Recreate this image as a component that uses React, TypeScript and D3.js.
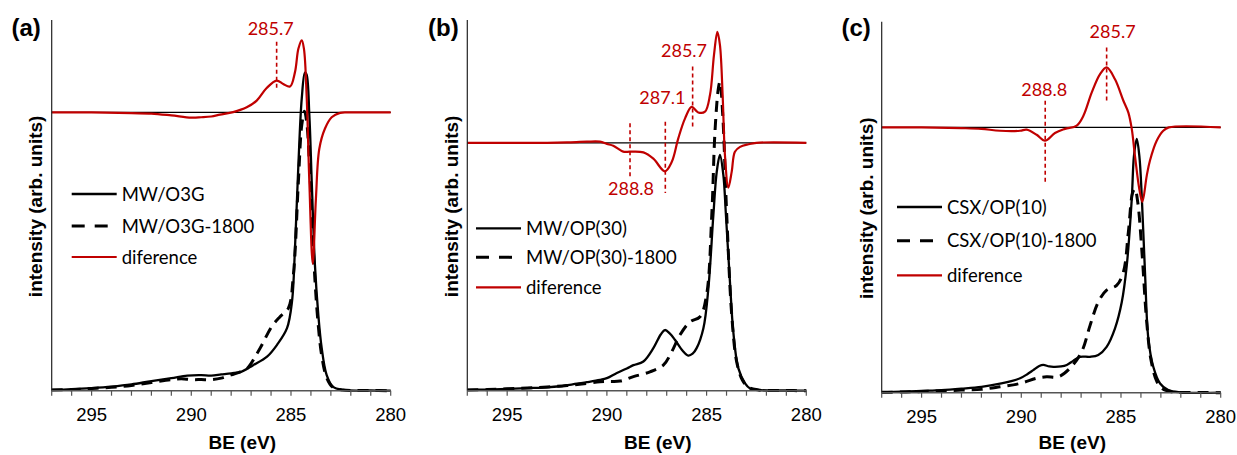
import React from "react";
import * as d3 from "d3";

type Pt = [number, number];

// ---------- data (BE in eV, intensity in arb. units 0..100) ----------
const xTicksMajor = [295, 290, 285, 280];
const panelLabels = ["(a)", "(b)", "(c)"];
const legendA = ["MW/O3G", "MW/O3G-1800", "diference"];
const legendB = ["MW/OP(30)", "MW/OP(30)-1800", "diference"];
const legendC = ["CSX/OP(10)", "CSX/OP(10)-1800", "diference"];
const diffBaselines = [75.2, 67.0, 71.7];

const aSolid: Pt[] = [
  [297, 0.2], [296, 0.4], [295, 0.7], [294, 1.1], [293, 1.7], [292, 2.6], [291, 3.4], [290.2, 4.1],
  [289.5, 4.2], [289, 4.1], [288.5, 4.4], [288, 4.7], [287.5, 5.1], [286.9, 6.9], [286.2, 9.2],
  [285.7, 12.4], [285.2, 16.9], [284.95, 24.1], [284.8, 38.5], [284.63, 61], [284.46, 79],
  [284.3, 86.0], [284.22, 85.5], [284.08, 74.5], [283.96, 56.5], [283.8, 34], [283.63, 20.5],
  [283.46, 11.5], [283.21, 4.2], [282.9, 1.1], [282.4, 0.2], [281, 0.05], [280, 0],
];
const aDashed: Pt[] = [
  [297, 0.2], [296, 0.3], [295, 0.6], [294, 0.9], [293, 1.4], [292, 2.2], [291, 3.0], [290.5, 3.2],
  [290, 3.0], [289.5, 3.0], [289, 3.0], [288.5, 3.4], [288, 4.3], [287.5, 5.2], [287.2, 6.0],
  [286.55, 11.5], [285.97, 17.3], [285.55, 20], [285.13, 22.3], [284.88, 31.3], [284.63, 56.5],
  [284.46, 71.8], [284.32, 75.5], [284.2, 72], [284.08, 62], [283.96, 48], [283.8, 30],
  [283.63, 17.5], [283.46, 9.5], [283.21, 3.5], [282.9, 0.9], [282.4, 0.2], [281, 0.05], [280, 0],
];
const aDiff: Pt[] = [
  [297, 0], [295, 0], [293, -0.2], [292, -0.3], [291, -0.8], [290, -1.4], [289.5, -1.3], [289, -1.1],
  [288.56, -0.6], [287.9, 0.1], [287.22, 1.4], [286.72, 3.2], [286.22, 6.6], [285.72, 8.6],
  [285.39, 7.7], [285.05, 7.0], [284.8, 10.9], [284.63, 17.2], [284.46, 19.5], [284.35, 17.2],
  [284.21, 3.7], [284.08, -18.8], [283.91, -40.9], [283.75, -23.3], [283.58, -9.8], [283.3, -4.4],
  [282.96, -1.3], [282.54, -0.1], [282, 0], [280, 0],
];

const bSolid: Pt[] = [
  [297, 0.2], [296, 0.3], [295, 0.5], [294, 0.7], [293, 0.9], [292.35, 1.2], [291.5, 1.9], [291, 2.3],
  [290.35, 2.9], [290, 3.4], [289.5, 4.8], [289, 6.0], [288.67, 6.9], [288.17, 7.9], [287.67, 11.5],
  [287.3, 15.2], [287.09, 16.4], [286.85, 15.5], [286.58, 13.7], [286.2, 10.8], [285.92, 9.5],
  [285.7, 10.0], [285.5, 11.5], [285.16, 16.9], [284.91, 27.7], [284.66, 47.5], [284.49, 59.2],
  [284.33, 63.7], [284.16, 58.3], [284.03, 47.5], [283.83, 29.5], [283.66, 15.9], [283.41, 6.1],
  [283.07, 2.0], [282.82, 0.6], [282.3, 0.15], [281, 0.05], [280, 0],
];
const bDashed: Pt[] = [
  [297, 0.2], [296, 0.3], [295, 0.5], [294, 0.7], [293, 1.0], [292, 1.4], [291, 2.0], [290.35, 2.4],
  [289.9, 2.5], [289.34, 2.6], [288.67, 3.8], [287.84, 5.1], [287.17, 6.9], [286.75, 10.5],
  [286.33, 15.1], [285.83, 18.6], [285.33, 20], [285.0, 25.9], [284.74, 47.5], [284.58, 70],
  [284.41, 81.7], [284.33, 83.5], [284.19, 74.5], [283.99, 47.5], [283.74, 20.5], [283.49, 7.8],
  [283.2, 2.8], [282.9, 0.9], [282.4, 0.2], [281, 0.05], [280, 0],
];
const bDiff: Pt[] = [
  [297, 0], [293, 0], [292, 0.1], [291, 0.3], [290.35, 0.3], [290.0, -0.3], [289.68, -0.8],
  [289.18, -2.4], [288.84, -2.4], [288.17, -2.6], [287.67, -4.3], [287.09, -7.7], [286.75, -5.2],
  [286.42, 1.2], [286.08, 6.6], [285.75, 9.7], [285.42, 8.2], [285.08, 8.4], [284.83, 12.9],
  [284.63, 23.7], [284.46, 30], [284.33, 26.4], [284.19, 12.1], [284.08, -3.3], [283.91, -12.1],
  [283.74, -7.8], [283.58, -2.4], [283.32, -1.1], [282.9, -0.4], [282.5, 0], [280, 0],
];

const cSolid: Pt[] = [
  [297, 0.1], [296, 0.3], [295, 0.5], [294, 0.7], [293, 1.1], [292, 1.6], [291, 2.5], [290.5, 3.1],
  [290.06, 3.9], [289.7, 5.0], [289.4, 6.1], [289.1, 7.2], [288.9, 7.5], [288.6, 7.1], [288.39, 7.0],
  [288, 7.1], [287.72, 7.5], [287.4, 8.6], [287.05, 9.7], [286.55, 9.7], [286.14, 10.2],
  [285.72, 12.4], [285.3, 17.4], [284.96, 24.5], [284.71, 34.4], [284.46, 52.4], [284.35, 64],
  [284.21, 68.6], [284.08, 64], [283.96, 53.3], [283.79, 31.7], [283.63, 14.7], [283.38, 7.0],
  [283.04, 2.5], [282.63, 0.7], [282, 0.1], [280, 0],
];
const cDashed: Pt[] = [
  [297, 0.1], [296, 0.2], [295, 0.3], [294, 0.5], [293, 0.7], [292, 0.9], [291.07, 1.6],
  [290.06, 2.5], [289.23, 3.9], [288.73, 4.3], [288.14, 4.3], [287.56, 6.6], [286.97, 11.1],
  [286.55, 18.2], [286.14, 24.5], [285.72, 27.7], [285.22, 29], [284.88, 32.6], [284.63, 43.4],
  [284.41, 54.2], [284.3, 55.1], [284.16, 51.5], [283.96, 38.9], [283.71, 19.1], [283.5, 9.0],
  [283.2, 3.0], [282.9, 1.0], [282.4, 0.2], [281, 0.05], [280, 0],
];
const cDiff: Pt[] = [
  [297, 0], [295, 0], [293, -0.2], [292, -0.4], [291.07, -0.9], [290.06, -0.9], [289.73, -0.6],
  [289.23, -2.0], [288.81, -3.6], [288.31, -1.5], [287.81, -0.4], [287.22, 0.5], [286.89, 3.1],
  [286.47, 9.4], [286.05, 14.4], [285.72, 16.2], [285.3, 13.0], [284.88, 7.2], [284.63, 4.0],
  [284.46, -0.4], [284.3, -7.7], [284.08, -16.7], [283.93, -20.1], [283.71, -13.1], [283.55, -9.0],
  [283.21, -3.6], [282.88, -0.9], [282.6, 0], [280, 0],
];

// annotations: text, line BE, line y1/y2, label BE, label y (data units)
type Ann = { text: string; be: number; y1: number; y2: number; lbe: number; ly: number };
const annA: Ann[] = [{ text: "285.7", be: 285.72, y1: 94.3, y2: 81.3, lbe: 286.02, ly: 96.1 }];
const annB: Ann[] = [
  { text: "285.7", be: 285.7, y1: 87.6, y2: 70.6, lbe: 286.13, ly: 90.2 },
  { text: "287.1", be: 287.07, y1: 72.7, y2: 53.4, lbe: 287.22, ly: 77.4 },
  { text: "288.8", be: 288.84, y1: 72.3, y2: 57.4, lbe: 288.79, ly: 52.9 },
];
const annC: Ann[] = [
  { text: "285.7", be: 285.72, y1: 93.3, y2: 78.4, lbe: 285.42, ly: 95.96 },
  { text: "288.8", be: 288.8, y1: 78.9, y2: 56.9, lbe: 288.85, ly: 80.2 },
];

// ---------- layout ----------
const RED = "#C00000";
const panels = [
  { label: panelLabels[0], x0: 51.7, bottom: 390.7, top: 20, solid: aSolid, dashed: aDashed, diff: aDiff, base: diffBaselines[0], legend: legendA, ann: annA, legX: 71.7, legY: [194, 226, 257], labX: 11.5, titleX: 35 },
  { label: panelLabels[1], x0: 467.3, bottom: 390.7, top: 20, solid: bSolid, dashed: bDashed, diff: bDiff, base: diffBaselines[1], legend: legendB, ann: annB, legX: 476, legY: [228.3, 257.3, 287.3], labX: 428, titleX: 450.7 },
  { label: panelLabels[2], x0: 881.7, bottom: 392.7, top: 21.7, solid: cSolid, dashed: cDashed, diff: cDiff, base: diffBaselines[2], legend: legendC, ann: annC, legX: 897, legY: [207, 240.7, 275.3], labX: 841.5, titleX: 865.7 },
];
const PW = 339;

const LEG_FONT = "Lato, 'Open Sans', sans-serif";
const AX_FONT = "'Liberation Sans', Arial, sans-serif";

function Panel({ p }: { p: (typeof panels)[number] }) {
  const x = d3.scaleLinear().domain([297, 280]).range([p.x0, p.x0 + PW]);
  const y = d3.scaleLinear().domain([0, 100]).range([p.bottom, p.bottom - 370]);
  const line = d3
    .line<Pt>()
    .x((d) => x(d[0]))
    .y((d) => y(d[1]))
    .curve(d3.curveCatmullRom.alpha(0.5));
  const diffLine = d3
    .line<Pt>()
    .x((d) => x(d[0]))
    .y((d) => y(d[1] + p.base))
    .curve(d3.curveCatmullRom.alpha(0.5));
  const minor = d3.range(297, 279, -1);
  const styles = [
    { stroke: "#000", dash: undefined as string | undefined, w: 2.3 },
    { stroke: "#000", dash: "13,10", w: 3 },
    { stroke: RED, dash: undefined as string | undefined, w: 2.2 },
  ];
  return (
    <g>
      {/* baseline for difference */}
      <line x1={x(297)} x2={x(280)} y1={y(p.base)} y2={y(p.base)} stroke="#000" strokeWidth={1.2} />
      <path d={line(p.dashed) || ""} fill="none" stroke="#000" strokeWidth={3} strokeDasharray="11,7" />
      <path d={line(p.solid) || ""} fill="none" stroke="#000" strokeWidth={2.3} />
      <path d={diffLine(p.diff) || ""} fill="none" stroke={RED} strokeWidth={2.2} />
      {/* axes */}
      <line x1={p.x0} x2={p.x0} y1={p.top} y2={p.bottom} stroke="#222" strokeWidth={1.2} />
      <line x1={p.x0} x2={p.x0 + PW} y1={p.bottom} y2={p.bottom} stroke="#555" strokeWidth={1.5} />
      {minor.map((t) => (
        <line key={t} x1={x(t)} x2={x(t)} y1={p.bottom} y2={p.bottom + 5} stroke="#555" strokeWidth={1.2} />
      ))}
      {xTicksMajor.map((t) => (
        <text key={t} x={x(t)} y={p.bottom + 30} textAnchor="middle" fontFamily={AX_FONT} fontSize={18.5} fill="#000">
          {t}
        </text>
      ))}
      <text x={p.x0 + PW / 2 + 21} y={449} textAnchor="middle" fontFamily={AX_FONT} fontWeight="bold" fontSize={19} fill="#000">
        BE (eV)
      </text>
      <text
        transform={`translate(${p.titleX + 7},${(p.top + p.bottom) / 2 + 1}) rotate(-90)`}
        textAnchor="middle"
        fontFamily={AX_FONT}
        fontWeight="bold"
        fontSize={19}
        fill="#000"
      >
        intensity (arb. units)
      </text>
      <text x={p.labX} y={36} fontFamily={AX_FONT} fontWeight="bold" fontSize={24} fill="#000">
        {p.label}
      </text>
      {/* annotations */}
      {p.ann.map((a) => (
        <g key={a.text + a.be}>
          <line x1={x(a.be)} x2={x(a.be)} y1={y(a.y1)} y2={y(a.y2)} stroke={RED} strokeWidth={1.6} strokeDasharray="4,3" />
          <text x={x(a.lbe)} y={y(a.ly)} textAnchor="middle" fontFamily={LEG_FONT} fontSize={18} fill={RED}>
            {a.text}
          </text>
        </g>
      ))}
      {/* legend */}
      {p.legend.map((name, i) => (
        <g key={name}>
          <line
            x1={p.legX}
            x2={p.legX + 45}
            y1={p.legY[i]}
            y2={p.legY[i]}
            stroke={styles[i].stroke}
            strokeWidth={styles[i].w}
            strokeDasharray={styles[i].dash}
          />
          <text x={p.legX + 50} y={p.legY[i] + 6.5} fontFamily={LEG_FONT} fontSize={18.5} fill="#000">
            {name}
          </text>
        </g>
      ))}
    </g>
  );
}

export default function App() {
  return (
    <svg
      width={1237}
      height={455}
      viewBox="0 0 1237 455"
      style={{ position: "absolute", left: 0, top: 0, background: "#fff" }}
    >
      <rect width={1237} height={455} fill="#fff" />
      {panels.map((p) => (
        <Panel key={p.label} p={p} />
      ))}
    </svg>
  );
}
